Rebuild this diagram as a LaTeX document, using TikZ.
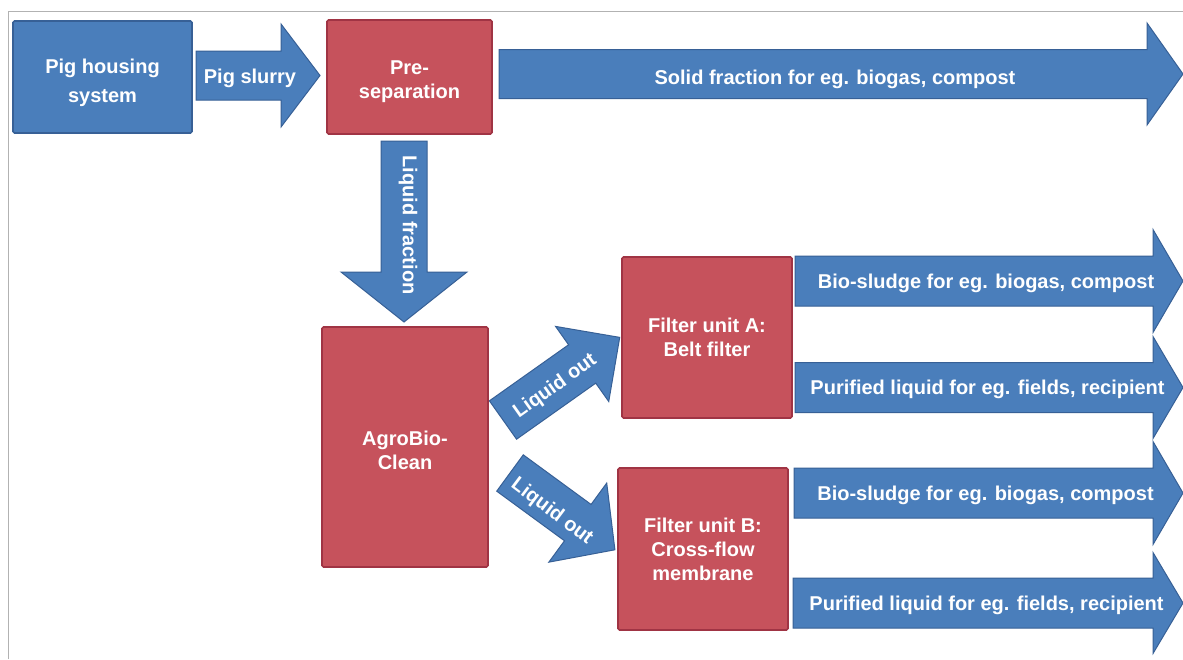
\documentclass[tikz,border=0pt]{standalone}
\usepackage{fontspec}
\setmainfont{Liberation Sans}
\definecolor{bfill}{RGB}{74,126,187}
\definecolor{bline}{RGB}{55,96,150}
\definecolor{rfill}{RGB}{198,82,92}
\definecolor{rline}{RGB}{160,52,68}
\tikzset{
  boxtext/.style={text=white, font=\fontsize{20}{24}\selectfont\bfseries, align=center, inner sep=0pt},
  bluebox/.style={boxtext, fill=bfill, draw=bline, line width=1.6pt, rounded corners=1.5pt},
  redbox/.style={boxtext, fill=rfill, draw=rline, line width=1.6pt, rounded corners=1.5pt},
  arrowbody/.style={fill=bfill, draw=bline, line width=1pt, line join=miter},
  lbl/.style={text=white, font=\fontsize{20}{24}\selectfont\bfseries, inner sep=0pt, text height=14.5pt, text depth=0pt},
  frameline/.style={draw=gray!60, line width=1pt}
}
% cx cy angle length headlength shafthalf headhalf
\newcommand\blockarr[7]{%
  \begin{scope}[shift={(#1,#2)},rotate=#3]
    \draw[arrowbody] (0,-#6) -- (#4-#5,-#6) -- (#4-#5,-#7) -- (#4,0) -- (#4-#5,#7) -- (#4-#5,#6) -- (0,#6) -- cycle;
  \end{scope}}
\begin{document}
\begin{tikzpicture}[x=1pt,y=-1pt]
\useasboundingbox (0,0) rectangle (1183,659);
\fill[white] (0,0) rectangle (1183,659);
\draw[frameline] (8,659) -- (8,11) -- (1183,11);

% block arrows
\blockarr{196}{75.5}{0}{124}{39}{24.5}{51.5}
\blockarr{499}{74}{0}{684}{36}{24.5}{51}
\blockarr{404}{141}{-90}{181}{50}{23}{63}
\blockarr{503}{420}{35.3}{143}{46}{23.5}{46}
\blockarr{510}{473}{-36.2}{130}{46}{22.5}{49}
\blockarr{795}{281}{0}{388}{30}{25}{51.5}
\blockarr{795}{387.5}{0}{388}{30}{25}{51}
\blockarr{794}{493}{0}{389}{30}{25}{51.5}
\blockarr{793}{603}{0}{390}{30}{25}{50.5}

% boxes
\node[bluebox, minimum width=179pt, minimum height=112pt] (house) at (102.5,77) {\rule{0pt}{27pt}Pig housing\\[5pt]system};
\node[redbox, minimum width=165pt, minimum height=114pt] (presep) at (409.5,77) {\rule{0pt}{23pt}Pre-\\separation};
\node[redbox, minimum width=166pt, minimum height=240pt] (agro) at (405,447) {\rule{0pt}{21pt}AgroBio-\\Clean};
\node[redbox, minimum width=170pt, minimum height=161pt] (filta) at (707,337.5) {Filter unit A:\\Belt filter};
\node[redbox, minimum width=170pt, minimum height=162pt] (filtb) at (703,549) {Filter unit B:\\Cross-flow\\membrane};

% arrow labels
\node[lbl] (tslurry) at (250,76) {Pig slurry};
\node[lbl] (tsolid) at (835,77) {Solid fraction for eg. biogas, compost};
\node[lbl, rotate=-90] (tliqfrac) at (410,225) {Liquid fraction};
\node[lbl, rotate=35.3] (tout1) at (554,385) {Liquid out};
\node[lbl, rotate=-37] (tout2) at (553,510) {Liquid out};
\node[lbl] (tsludgea) at (986,281) {Bio-sludge for eg. biogas, compost};
\node[lbl] (tpurea) at (987.5,387.5) {Purified liquid for eg. fields, recipient};
\node[lbl] (tsludgeb) at (985.5,493) {Bio-sludge for eg. biogas, compost};
\node[lbl] (tpureb) at (986.5,603) {Purified liquid for eg. fields, recipient};
\end{tikzpicture}
\end{document}
